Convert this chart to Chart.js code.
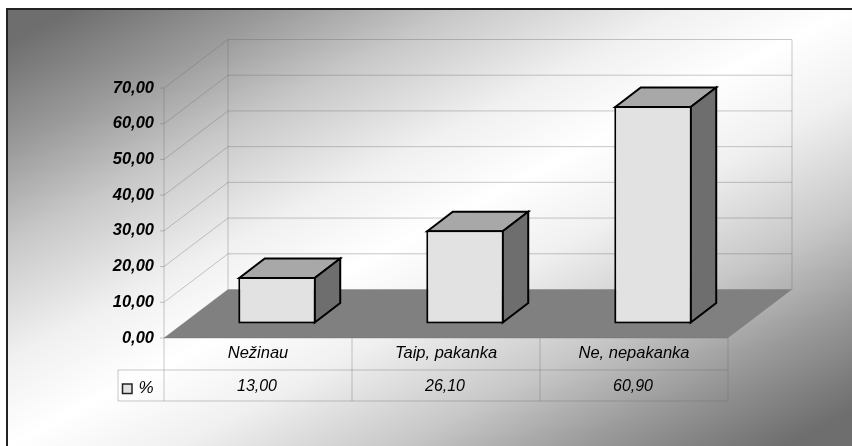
<!DOCTYPE html>
<html>
<head>
<meta charset="utf-8">
<style>
html, body { margin:0; padding:0; background:#fff; }
canvas { display:block; }
</style>
<script src="https://cdn.jsdelivr.net/npm/chart.js@4/dist/chart.umd.min.js"></script>
</head>
<body>
<canvas id="chart" width="852" height="446"></canvas>
<script>
var categories = ['Nežinau', 'Taip, pakanka', 'Ne, nepakanka'];
var seriesName = '%';
var values = [13.00, 26.10, 60.90];
var valueLabels = ['13,00', '26,10', '60,90'];
var yTickLabels = ['0,00', '10,00', '20,00', '30,00', '40,00', '50,00', '60,00', '70,00'];

var FONT = '"Liberation Sans", Arial, sans-serif';
var wall = {dx: 64, dy: -48.5};   //바닥 깊이
var barShift = {dx: 19, dy: -14.5}; //막대 앞면 위치
var barDepth = {dx: 25.5, dy: -19.5};
var gridColor = 'rgba(105,105,105,0.36)';

function poly(ctx, pts, fill, stroke, lw) {
	ctx.beginPath();
	pts.forEach(function (p, i) {
		if (i == 0) ctx.moveTo(p[0], p[1]);
		else ctx.lineTo(p[0], p[1]);
	});
	ctx.closePath();
	if (fill) { ctx.fillStyle = fill; ctx.fill(); }
	if (stroke) { ctx.strokeStyle = stroke; ctx.lineWidth = lw; ctx.lineJoin = 'miter'; ctx.stroke(); }
}

function line(ctx, x1, y1, x2, y2) {
	ctx.beginPath();
	ctx.moveTo(x1, y1);
	ctx.lineTo(x2, y2);
	ctx.stroke();
}

var box3d = {
	id: 'box3d',
	//배경, 벽, 바닥
	beforeDraw: function (chart) {
		var ctx = chart.ctx, W = chart.width, H = chart.height;
		ctx.save();
		ctx.fillStyle = '#fff';
		ctx.fillRect(0, 0, W, H);
		var g = ctx.createLinearGradient(251, -118, 609, 572);
		g.addColorStop(0.04, '#6e6e6e');
		g.addColorStop(0.16, '#9a9a9a');
		g.addColorStop(0.27, '#c8c8c8');
		g.addColorStop(0.40, '#f0f0f0');
		g.addColorStop(0.50, '#ffffff');
		g.addColorStop(0.60, '#f0f0f0');
		g.addColorStop(0.73, '#c8c8c8');
		g.addColorStop(0.84, '#9a9a9a');
		g.addColorStop(0.96, '#6e6e6e');
		ctx.fillStyle = g;
		ctx.fillRect(7, 9, W - 7, H - 9);
		ctx.fillStyle = '#222';
		ctx.fillRect(6, 8, W - 6, 2);
		ctx.fillRect(6, 8, 2, H - 8);

		var x = chart.scales.x, y = chart.scales.y;
		var l = x.left, r = x.right, b = y.bottom;
		ctx.strokeStyle = gridColor;
		ctx.lineWidth = 1;
		y.ticks.forEach(function (t) {
			var py = y.getPixelForValue(t.value);
			line(ctx, l - 4, py, l, py);
			line(ctx, l, py, l + wall.dx, py + wall.dy);
			line(ctx, l + wall.dx, py + wall.dy, r + wall.dx, py + wall.dy);
		});
		line(ctx, l, y.top, l, b);
		line(ctx, l + wall.dx, y.top + wall.dy, l + wall.dx, b + wall.dy);
		line(ctx, r + wall.dx, y.top + wall.dy, r + wall.dx, b + wall.dy);

		poly(ctx, [[l, b], [r, b], [r + wall.dx, b + wall.dy], [l + wall.dx, b + wall.dy]], '#808080');

		//데이터 테이블
		var rowMid = b + 32, rowEnd = b + 63, keyLeft = l - 46;
		ctx.strokeStyle = gridColor;
		line(ctx, l, b, r, b);
		line(ctx, keyLeft, rowMid, r, rowMid);
		line(ctx, keyLeft, rowEnd, r, rowEnd);
		line(ctx, keyLeft, rowMid, keyLeft, rowEnd);
		line(ctx, l, b, l, rowEnd);
		var step = (r - l) / categories.length;
		for (var i = 1; i <= categories.length; i++) {
			line(ctx, l + step * i, b, l + step * i, rowEnd);
		}
		ctx.restore();
	},
	//막대 윗면, 옆면 + 앞면 이동
	beforeDatasetDraw: function (chart, args) {
		var ctx = chart.ctx;
		ctx.save();
		ctx.translate(barShift.dx, barShift.dy);
		args.meta.data.forEach(function (bar) {
			var p = bar.getProps(['x', 'y', 'base', 'width'], true);
			var x1 = p.x - p.width / 2 + 1, x2 = p.x + p.width / 2 - 1;
			var top = p.y + 1, bot = p.base - 1;
			var d = barDepth;
			poly(ctx, [[x1, top], [x1 + d.dx, top + d.dy], [x2 + d.dx, top + d.dy], [x2, top]], '#a8a8a8', '#000', 2);
			poly(ctx, [[x2, top], [x2 + d.dx, top + d.dy], [x2 + d.dx, bot + d.dy], [x2, bot]], '#6e6e6e', '#000', 2);
		});
	},
	afterDatasetDraw: function (chart) {
		chart.ctx.restore();
	},
	//테이블 글자
	afterDraw: function (chart) {
		var ctx = chart.ctx, x = chart.scales.x, b = chart.scales.y.bottom;
		ctx.save();
		ctx.fillStyle = '#000';
		ctx.font = 'italic 16px ' + FONT;
		ctx.textAlign = 'center';
		ctx.textBaseline = 'middle';
		valueLabels.forEach(function (v, i) {
			ctx.fillText(v, x.getPixelForTick(i) - 1, b + 49);
		});
		ctx.font = 'italic 17px ' + FONT;
		ctx.fillText(seriesName, x.left - 18, b + 50);
		ctx.fillStyle = '#e2e2e2';
		ctx.strokeStyle = '#222';
		ctx.lineWidth = 1.5;
		ctx.fillRect(x.left - 41.5, b + 46, 9.5, 9.5);
		ctx.strokeRect(x.left - 41.5, b + 46, 9.5, 9.5);
		ctx.restore();
	}
};

new Chart(document.getElementById('chart'), {
	type: 'bar',
	data: {
		labels: categories,
		datasets: [{
			label: seriesName,
			data: values,
			backgroundColor: '#e2e2e2',
			borderColor: '#000',
			borderWidth: 2,
			borderSkipped: false,
			barPercentage: 0.412,
			categoryPercentage: 1,
			clip: false
		}]
	},
	options: {
		responsive: false,
		animation: false,
		layout: { padding: { top: 88, right: 124, left: 0, bottom: 0 } },
		plugins: { legend: { display: false }, tooltip: { enabled: false }, title: { display: false } },
		scales: {
			x: {
				grid: { display: false, drawTicks: false },
				border: { display: false },
				afterFit: function (s) { s.height = 108; },
				ticks: {
					color: '#000',
					padding: 6,
					maxRotation: 0,
					autoSkip: false,
					font: { family: FONT, size: 16.5, style: 'italic' }
				}
			},
			y: {
				min: 0,
				max: 70,
				grid: { display: false, drawTicks: false },
				border: { display: false },
				afterFit: function (s) { s.width = 164; },
				ticks: {
					stepSize: 10,
					color: '#000',
					padding: 10,
					font: { family: FONT, size: 16.5, style: 'italic', weight: 'bold' },
					callback: function (v, i) { return yTickLabels[i]; }
				}
			}
		}
	},
	plugins: [box3d]
});
</script>
</body>
</html>
